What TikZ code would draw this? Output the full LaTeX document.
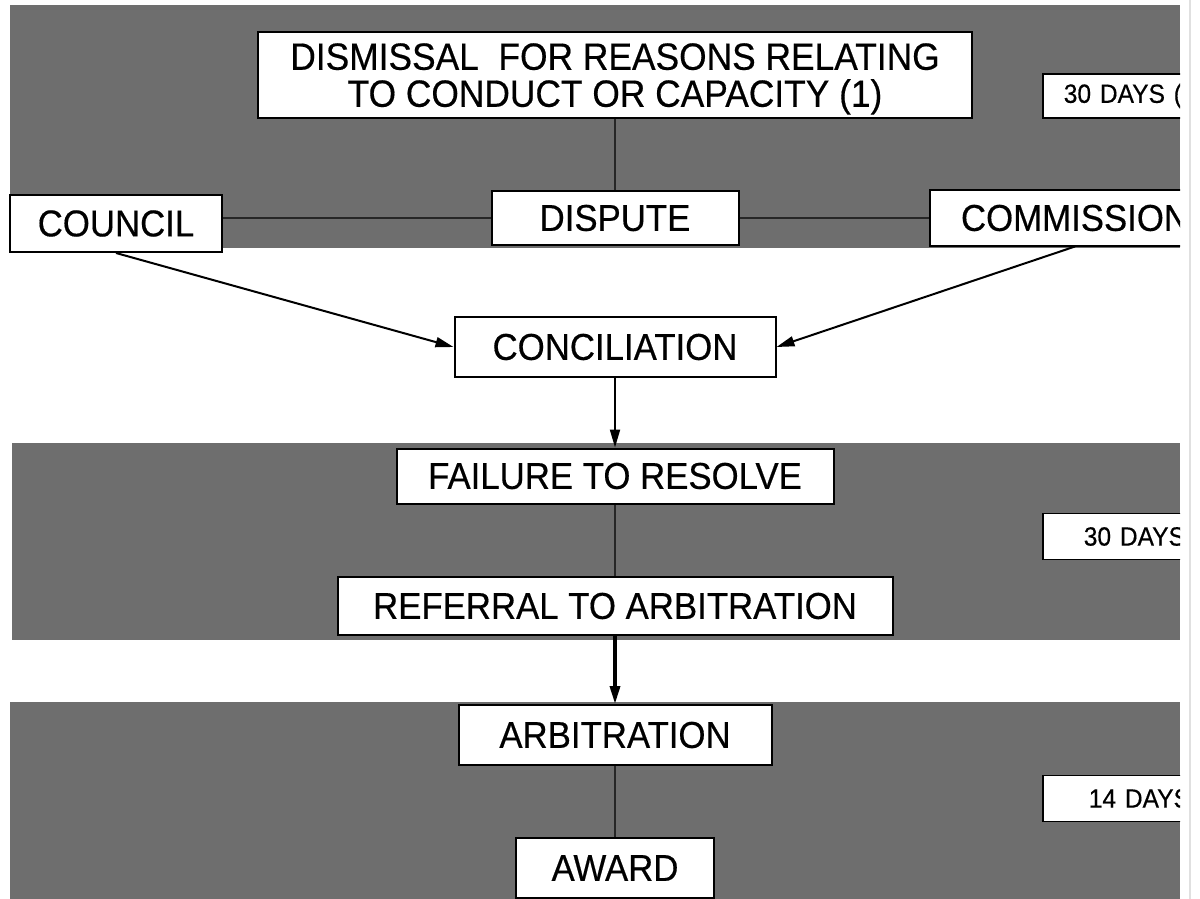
\documentclass[tikz,border=0pt]{standalone}
\usepackage{fontspec}
\setmainfont{Liberation Sans}[FakeStretch=0.93, FakeBold=0.4]
\usetikzlibrary{positioning,arrows.meta}
\newcommand{\stagefont}{\fontsize{18.7}{22}\selectfont}
\newcommand{\titlefont}{\fontsize{19}{18.5}\selectfont}
\newcommand{\daysfont}{\fontsize{13.2}{15}\selectfont}

\begin{document}
\begin{tikzpicture}[x=0.5pt, y=-0.5pt,
    band/.style={fill=black!57},
    stage/.style={draw, fill=white, line width=1pt, inner sep=0pt, font=\stagefont},
    days/.style={draw, fill=white, line width=0.8pt, anchor=west, text width=80pt,
      align=left, minimum height=23pt, inner ysep=0pt, font=\daysfont},
    link/.style={draw=black!85, line width=0.7pt},
    flow/.style={-{Triangle[length=9pt,width=5pt]}, line width=1pt}]
  \useasboundingbox (0,0) rectangle (1200,899);
  \draw [black!12, line width=1pt] (1190,0) -- (1190,899);
  \begin{scope}
    \clip (0,0) rectangle (1180,899);
    % grey bands
    \fill [band] (10,5) rectangle (1180,248);
    \fill [band] (12,443) rectangle (1180,640);
    \fill [band] (10,702) rectangle (1180,899);
    % stages
    \node [stage, minimum width=357pt, minimum height=43pt, align=center, text depth=0pt, font=\titlefont] (Dismissal) at (615,75)
      {DISMISSAL\ \ FOR REASONS RELATING\\TO CONDUCT OR CAPACITY (1)};
    \node [stage, on grid, below=71.5pt of Dismissal, minimum width=123.5pt, minimum height=26.5pt] (Dispute) {DISPUTE};
    \node [stage, on grid, below left=2.75pt and 249.5pt of Dispute, minimum width=106pt, minimum height=28.5pt] (Council) {COUNCIL};
    \node [stage, on grid, right=230pt of Dispute, minimum width=145pt, minimum height=27.5pt] (Commission) {COMMISSION};
    \node [stage, on grid, below=64.5pt of Dispute, minimum width=160.5pt, minimum height=30pt] (Conciliation) {CONCILIATION};
    \node [stage, on grid, below=64.5pt of Conciliation, minimum width=218.5pt, minimum height=27.5pt] (Failure) {FAILURE TO RESOLVE};
    \node [stage, on grid, below=65pt of Failure, minimum width=277.5pt, minimum height=29pt] (Referral) {REFERRAL TO ARBITRATION};
    \node [stage, on grid, below=64.5pt of Referral, minimum width=156.5pt, minimum height=30pt] (Arbitration) {ARBITRATION};
    \node [stage, on grid, below=66.5pt of Arbitration, minimum width=99pt, minimum height=30pt] (Award) {AWARD};
    % time limits
    \node [days, inner xsep=10.5pt, minimum height=22pt] (DaysA) at (1042,96) {30 DAYS (};
    \node [days, inner xsep=20.5pt] (DaysB) at (1042,536.5) {30 DAYS};
    \node [days, inner xsep=23pt] (DaysC) at (1042,798.5) {14 DAYS};
    % connectors
    \draw [link] (Dismissal.south) to (Dismissal.south |- Dispute.north);
    \draw [link] (Dispute.west) to (Dispute.west -| Council.east);
    \draw [link] (Dispute.east) to (Dispute.east -| Commission.west);
    \draw [flow] (Council.south) to (Conciliation.west);
    \draw [flow] (Commission.south) to (Conciliation.east);
    \draw [flow] (Conciliation.south) to (Failure.north);
    \draw [link] (Failure.south) to (Referral.north);
    \draw [flow, line width=1.7pt] (Referral.south) to (Arbitration.north);
    \draw [link] (Arbitration.south) to (Award.north);
  \end{scope}
\end{tikzpicture}
\end{document}
